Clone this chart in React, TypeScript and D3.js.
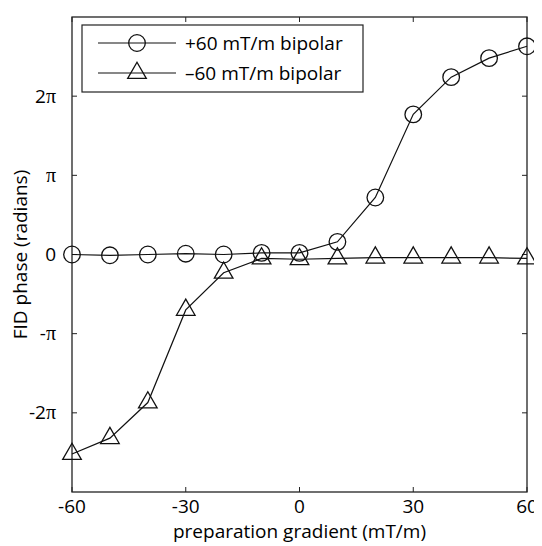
import { useEffect, useRef } from 'react'
import * as d3 from 'd3'

// preparation gradient (mT/m)
const gradients = [-60, -50, -40, -30, -20, -10, 0, 10, 20, 30, 40, 50, 60]
// FID phase in units of pi
const plusPhase = [0, -0.01, 0, 0.01, 0, 0.02, 0.02, 0.16, 0.72, 1.77, 2.24, 2.48, 2.63]
const minusPhase = [-2.52, -2.32, -1.87, -0.7, -0.23, -0.05, -0.06, -0.05, -0.04, -0.04, -0.04, -0.04, -0.05]

const xTicks = [-60, -30, 0, 30, 60]
const yTicks = [-2, -1, 0, 1, 2]
const yTickPrefix = ['-2', '-', '0', '', '2']
const legendLabels = ['+60 mT/m bipolar', '\u201360 mT/m bipolar']

const FONT = '"Open Sans", "DejaVu Sans", sans-serif'
const SERIF = '"Liberation Serif", "DejaVu Serif", serif'
const FS = 19

export default function App() {
  const ref = useRef<SVGSVGElement>(null)

  useEffect(() => {
    const svg = d3.select(ref.current)
    svg.selectAll('*').remove()

    const margin = { top: 17, right: 15, bottom: 54, left: 72 }
    const W = 542, H = 546
    const width = W - margin.left - margin.right
    const height = H - margin.top - margin.bottom

    const g = svg.append('g').attr('transform', `translate(${margin.left},${margin.top})`)

    const x = d3.scaleLinear().domain([-60, 60]).range([0, width])
    const y = d3.scaleLinear().domain([-3, 3]).range([height, 0])

    // frame
    g.append('rect')
      .attr('width', width).attr('height', height)
      .attr('fill', 'none').attr('stroke', '#222').attr('stroke-width', 1.3)

    const tickLen = 5
    xTicks.forEach(t => {
      g.append('line').attr('x1', x(t)).attr('x2', x(t)).attr('y1', height).attr('y2', height - tickLen)
        .attr('stroke', '#222')
      g.append('line').attr('x1', x(t)).attr('x2', x(t)).attr('y1', 0).attr('y2', tickLen)
        .attr('stroke', '#222')
      g.append('text').attr('x', x(t)).attr('y', height + 21)
        .attr('text-anchor', 'middle').attr('font-family', FONT).attr('font-size', FS)
        .text(t)
    })
    yTicks.forEach((t, i) => {
      g.append('line').attr('x1', 0).attr('x2', tickLen).attr('y1', y(t)).attr('y2', y(t))
        .attr('stroke', '#222')
      g.append('line').attr('x1', width).attr('x2', width - tickLen).attr('y1', y(t)).attr('y2', y(t))
        .attr('stroke', '#222')
      const txt = g.append('text').attr('x', -16).attr('y', y(t)).attr('dy', '0.35em')
        .attr('text-anchor', 'end').attr('font-family', FONT).attr('font-size', FS)
      txt.append('tspan').text(yTickPrefix[i])
      if (t !== 0) txt.append('tspan').attr('font-family', SERIF).attr('font-size', FS + 1).text('π')
    })

    g.append('text')
      .attr('x', width / 2).attr('y', height + 46)
      .attr('text-anchor', 'middle').attr('font-family', FONT).attr('font-size', FS)
      .text('preparation gradient (mT/m)')

    g.append('text')
      .attr('transform', 'rotate(-90)')
      .attr('x', -height / 2).attr('y', -45)
      .attr('text-anchor', 'middle').attr('font-family', FONT).attr('font-size', FS)
      .text('FID phase (radians)')

    const line = d3.line<number>()
      .x((_, i) => x(gradients[i]))
      .y(d => y(d))

    const tri = d3.symbol().type(d3.symbolTriangle).size(150)

    const drawCircle = (sel: any, cx: number, cy: number) =>
      sel.append('circle').attr('cx', cx).attr('cy', cy).attr('r', 8.3)
        .attr('fill', 'none').attr('stroke', '#111').attr('stroke-width', 1.3)
    const drawTri = (sel: any, cx: number, cy: number) =>
      sel.append('path').attr('d', tri()).attr('transform', `translate(${cx},${cy})`)
        .attr('fill', 'none').attr('stroke', '#111').attr('stroke-width', 1.3)

    g.append('path').datum(plusPhase).attr('d', line)
      .attr('fill', 'none').attr('stroke', '#111').attr('stroke-width', 1.2)
    g.append('path').datum(minusPhase).attr('d', line)
      .attr('fill', 'none').attr('stroke', '#111').attr('stroke-width', 1.2)

    plusPhase.forEach((v, i) => drawCircle(g, x(gradients[i]), y(v)))
    minusPhase.forEach((v, i) => drawTri(g, x(gradients[i]), y(v)))

    // legend
    const lg = g.append('g').attr('transform', 'translate(10,8)')
    lg.append('rect').attr('width', 281).attr('height', 67)
      .attr('fill', '#fff').attr('stroke', '#222').attr('stroke-width', 1.2)
    legendLabels.forEach((label, i) => {
      const ly = 18 + i * 30
      lg.append('line').attr('x1', 16).attr('x2', 94).attr('y1', ly).attr('y2', ly)
        .attr('stroke', '#111').attr('stroke-width', 1.2)
      if (i === 0) drawCircle(lg, 55, ly)
      else drawTri(lg, 55, ly)
      lg.append('text').attr('x', 103).attr('y', ly).attr('dy', '0.35em')
        .attr('font-family', FONT).attr('font-size', FS)
        .text(label)
    })
  }, [])

  return <svg ref={ref} width={542} height={546} style={{ display: 'block', margin: '-8px -8px 0 -8px' }} />
}
